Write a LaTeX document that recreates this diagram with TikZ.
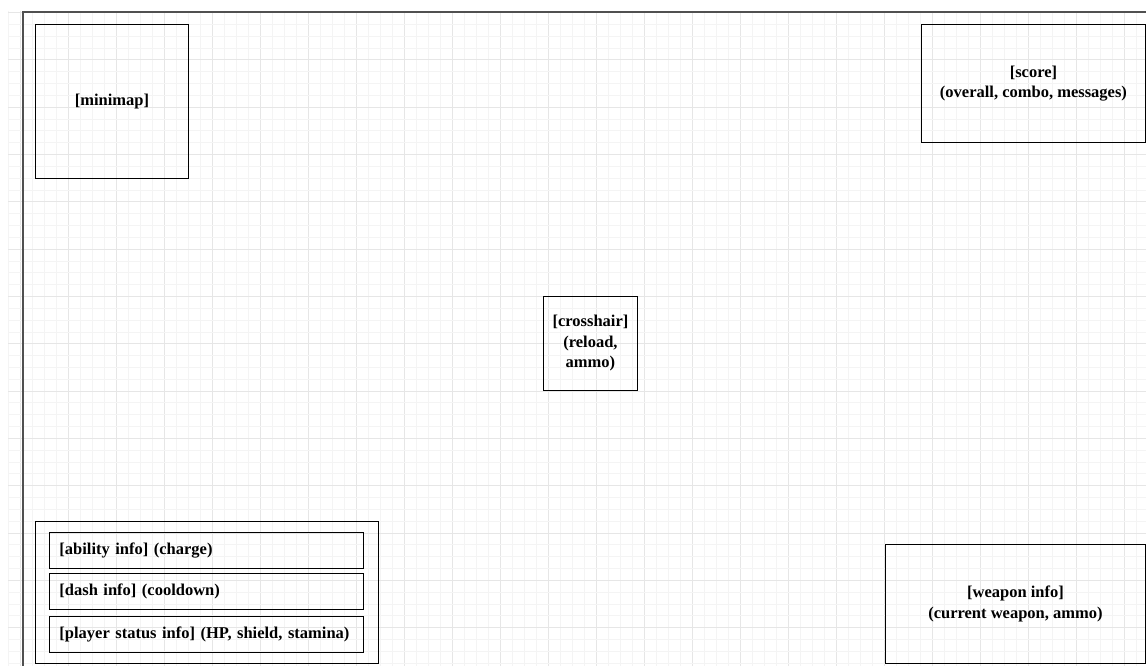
\documentclass[tikz,border=0pt]{standalone}
\usepackage{fontspec}
\setmainfont{Liberation Serif}
\usepackage{tikz}
\definecolor{gridminor}{RGB}{244,244,244}
\definecolor{gridmajor}{RGB}{230,230,230}
\definecolor{framegray}{RGB}{80,80,80}
\tikzstyle{minorline} = [draw=gridminor, line width=0.8pt]
\tikzstyle{majorline} = [draw=gridmajor, line width=1pt]
\tikzstyle{hudbox} = [rectangle, draw=black, line width=0.9pt, anchor=north west, align=center, inner sep=0pt, font=\fontsize{16.5}{20.5}\selectfont\bfseries]
\tikzstyle{infobox} = [rectangle, draw=black, line width=0.9pt, anchor=north west, align=left, inner xsep=10pt, inner ysep=0pt, font=\fontsize{16.5}{20.5}\selectfont\bfseries]

\begin{document}
\begin{tikzpicture}
[x=1pt, y=-1pt]

\useasboundingbox (0,0) rectangle (1146,666);
\fill[white] (0,0) rectangle (1146,666);

% background grid
\foreach \i in {0,...,95} {
  \pgfmathtruncatemacro{\m}{mod(\i,4)}
  \ifnum\m=1
    \draw[majorline] ({8+12*\i},11) -- ({8+12*\i},666);
  \else
    \draw[minorline] ({8+12*\i},11) -- ({8+12*\i},666);
  \fi
}
\foreach \k in {0,...,55} {
  \pgfmathtruncatemacro{\m}{mod(\k,4)}
  \ifnum\m=0
    \draw[majorline] (8,{12.5+11.83*\k}) -- (1146,{12.5+11.83*\k});
  \else
    \draw[minorline] (8,{12.5+11.83*\k}) -- (1146,{12.5+11.83*\k});
  \fi
}

% screen frame
\draw[framegray, line width=1.4pt] (1150,12) -- (23,12) -- (23,670);

\node (minimap) [hudbox, minimum width=153pt, minimum height=154pt] at (35,24) {[minimap]};
\node (score) [hudbox, minimum width=224pt, minimum height=118pt] at (921,24) {[score]\\(overall, combo, messages)};
\node (crosshair) [hudbox, minimum width=94pt, minimum height=94pt] at (543,296) {[crosshair]\\(reload,\\ammo)};
\node (weapon) [hudbox, minimum width=260pt, minimum height=119pt] at (885,544) {[weapon info]\\(current weapon, ammo)};

\node (status) [hudbox, minimum width=343pt, minimum height=142pt] at (35,521) {};
\node (ability) [infobox, text width=294pt, minimum height=36pt] at (49,532) {[ability info] (charge)};
\node (dashinfo) [infobox, text width=294pt, minimum height=36pt] at (49,573) {[dash info] (cooldown)};
\node (player) [infobox, text width=294pt, minimum height=36pt] at (49,616) {[player status info] (HP, shield, stamina)};

\end{tikzpicture}
\end{document}
